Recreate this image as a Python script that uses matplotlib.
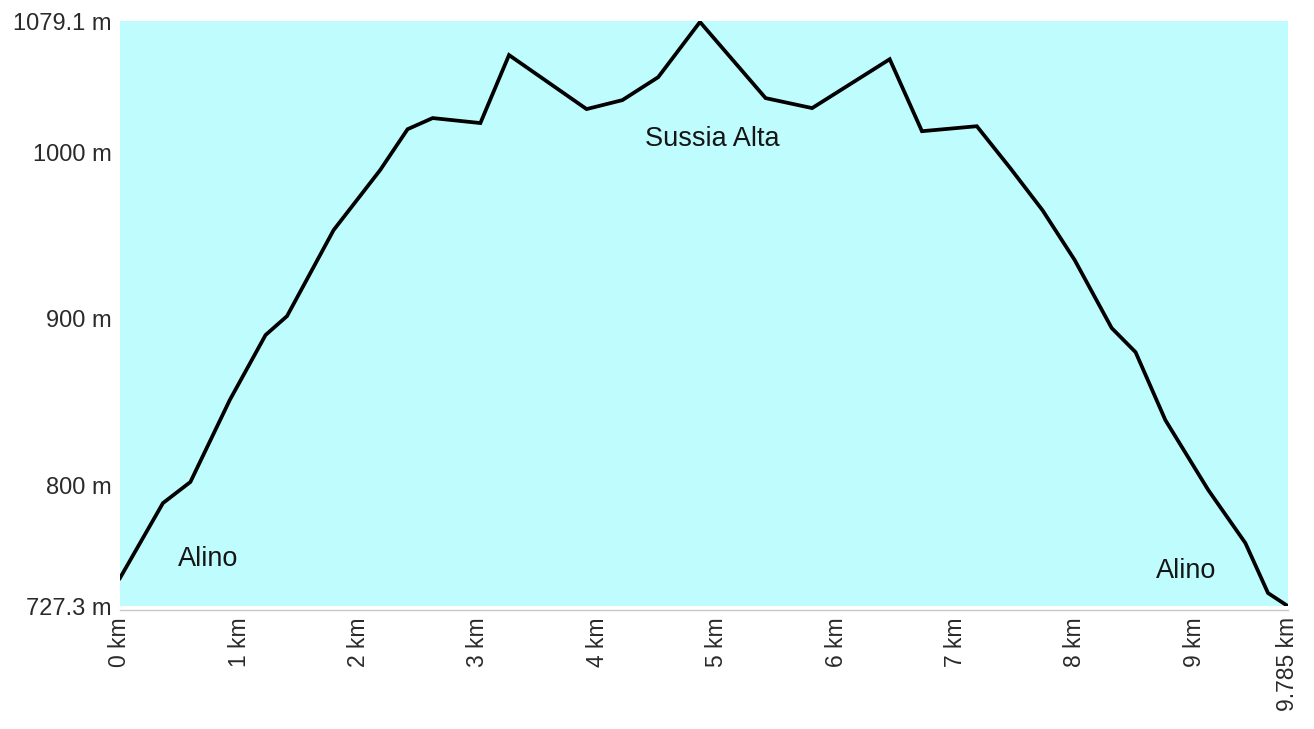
import matplotlib.pyplot as plt

plt.rcParams['font.family'] = ['Liberation Sans', 'DejaVu Sans']

# elevation profile, distance in km and height in m
dist_km = [0.0, 0.36, 0.59, 0.92, 1.22, 1.40, 1.79, 2.18, 2.41, 2.62, 3.02, 3.26,
           3.91, 4.21, 4.51, 4.86, 5.41, 5.80, 6.45, 6.72, 7.18, 7.46, 7.73, 8.00,
           8.31, 8.51, 8.76, 9.12, 9.43, 9.62, 9.785]
elev_m = [744.1, 789.2, 801.9, 851.2, 890.3, 901.7, 953.4, 989.5, 1014.1, 1020.8,
          1017.8, 1058.7, 1026.2, 1031.6, 1045.4, 1078.6, 1032.8, 1026.8, 1056.2,
          1012.9, 1015.9, 990.7, 965.4, 935.4, 894.5, 880.0, 839.1, 797.0, 765.2,
          735.1, 727.3]

y_ticks = [727.3, 800, 900, 1000, 1079.1]
y_labels = ["727.3 m", "800 m", "900 m", "1000 m", "1079.1 m"]
x_ticks = [0, 1, 2, 3, 4, 5, 6, 7, 8, 9, 9.785]
x_labels = ["0 km", "1 km", "2 km", "3 km", "4 km", "5 km", "6 km", "7 km",
            "8 km", "9 km", "9.785 km"]

places = ["Alino", "Sussia Alta", "Alino"]
place_x = [0.74, 4.96, 8.93]
place_y = [755.5, 1008.0, 748.3]

fig = plt.figure(figsize=(13.14, 7.29), dpi=100)
ax = fig.add_axes([0.0913, 0.1687, 0.8887, 0.8023])
ax.set_facecolor('#bffcfd')

ax.plot(dist_km, elev_m, color='black', lw=2.7, solid_joinstyle='miter')

for name, px, py in zip(places, place_x, place_y):
    ax.text(px, py, name, ha='center', va='center', fontsize=19.5, color='#151515')

ax.set_xlim(0, 9.785)
ax.set_ylim(727.3, 1079.1)
ax.set_yticks(y_ticks)
ax.set_yticklabels(y_labels)
ax.set_xticks(x_ticks)
ax.set_xticklabels(x_labels)
ax.tick_params(axis='y', length=0, pad=6, labelsize=17, labelcolor='#2a2a2a')
ax.tick_params(axis='x', length=0, pad=5, labelsize=16.5, labelcolor='#2a2a2a',
               labelrotation=90)

for side in ['top', 'right', 'left']:
    ax.spines[side].set_visible(False)
ax.spines['bottom'].set_color('#c8c8c8')
ax.spines['bottom'].set_linewidth(1)
ax.spines['bottom'].set_position(('outward', 3))

fig.savefig('out.png', dpi=100)
